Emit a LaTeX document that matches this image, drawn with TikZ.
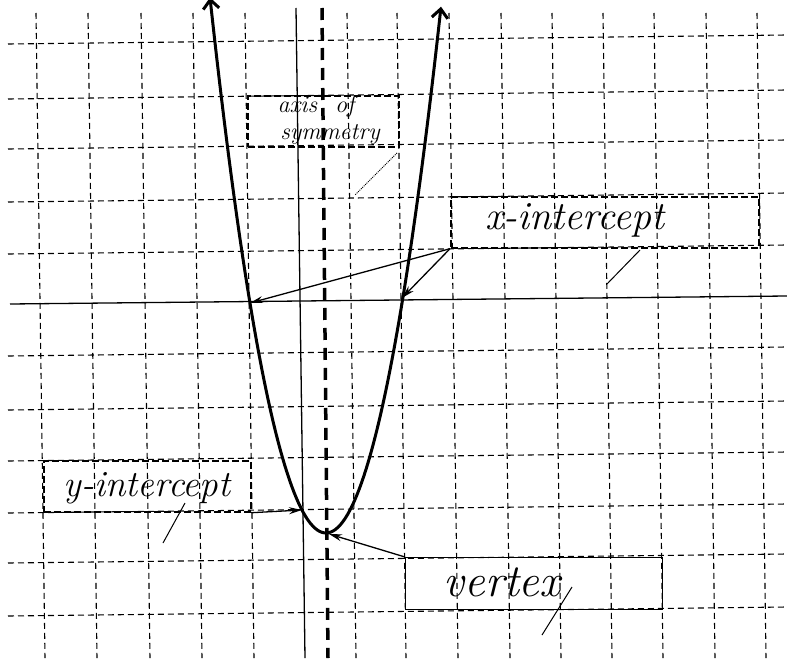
\documentclass[tikz,border=0pt]{standalone}
\usetikzlibrary{arrows.meta}
\begin{document}
\begin{tikzpicture}[x=1pt,y=-1pt,
  gridline/.style={line width=1.1pt, dash pattern=on 6pt off 4pt},
  axisline/.style={line width=1.3pt},
  symline/.style={line width=3.5pt, dash pattern=on 12pt off 8pt},
  curve/.style={line width=3pt},
  labelbox/.style={draw, line width=1.7pt, dash pattern=on 7pt off 3pt, inner sep=0pt, anchor=north west},
  vertexbox/.style={draw, line width=1.3pt, inner sep=0pt, anchor=north west},
  pointer/.style={line width=1.3pt, -{Stealth[length=13pt,width=7pt]}},
  tickmark/.style={line width=1pt},
  hand/.style={inner sep=0pt}
]
\useasboundingbox (0,0) rectangle (787,661);
\fill[white] (0,0) rectangle (787,661);

% grid
\foreach \x in {36,88,141,193,245,347,397,449,501,552,603,654,706,757}
  \draw[gridline] (\x,13) -- (\x+9,658);
\foreach \y in {44,99,149,202,254,356,410,461,513,563,616}
  \draw[gridline] (8,\y) -- (787,\y-9);

% axes
\draw[axisline] (10,304) -- (787,296);
\draw[axisline] (296,8) -- (305,658);
% axis of symmetry
\draw[symline] (322,8) -- (328,658);

% parabola
\draw[curve, {Straight Barb[length=9pt,width=16pt]}-{Straight Barb[length=9pt,width=16pt]}]
  plot[domain=210:441, samples=100] (\x, {533-0.0398*(\x-326)*(\x-326)});

% key points
\coordinate (xl) at (250,303);
\coordinate (xr) at (402,298);
\coordinate (yi) at (302,510);
\coordinate (vx) at (329,534);

% label boxes
\node[labelbox, minimum width=151pt, minimum height=51pt] (axisbox) at (247,95) {};
\node[hand, font=\fontsize{24}{26}\selectfont\itshape] (atext1) at (316,106) {axis\hspace{18pt}of};
\node[hand, font=\fontsize{24}{26}\selectfont\itshape] (atext2) at (330,134) {symmetry};
\node[labelbox, minimum width=308pt, minimum height=51pt] (xbox) at (450,196) {};
\node[hand, font=\fontsize{40}{42}\selectfont\itshape] (xtext) at (575,220) {x-intercept};
\node[labelbox, minimum width=207pt, minimum height=51pt] (ybox) at (43,460) {};
\node[hand, font=\fontsize{37}{40}\selectfont\itshape] (ytext) at (147,488) {y-intercept};
\node[vertexbox, minimum width=257pt, minimum height=52pt] (vbox) at (405,557) {};
\node[hand, font=\fontsize{46}{48}\selectfont\itshape] (vtext) at (502,582) {vertex};

% pointers
\draw[pointer] (xbox.south west) -- (xl);
\draw[pointer] (xbox.south west) -- (xr);
\draw[pointer] (ybox.south east) -- (yi);
\draw[pointer] (vbox.north west) -- (vx);

% small hand strokes under labels
\coordinate (a1) at (397,153); \coordinate (a2) at (355,195);
\coordinate (b1) at (640,250); \coordinate (b2) at (607,284);
\coordinate (c1) at (185,503); \coordinate (c2) at (163,543);
\coordinate (d1) at (572,587); \coordinate (d2) at (542,635);
\draw[tickmark, densely dotted] (a1) -- (a2);
\draw[tickmark] (b1) -- (b2);
\draw[tickmark] (c1) -- (c2);
\draw[tickmark] (d1) -- (d2);
\end{tikzpicture}
\end{document}
